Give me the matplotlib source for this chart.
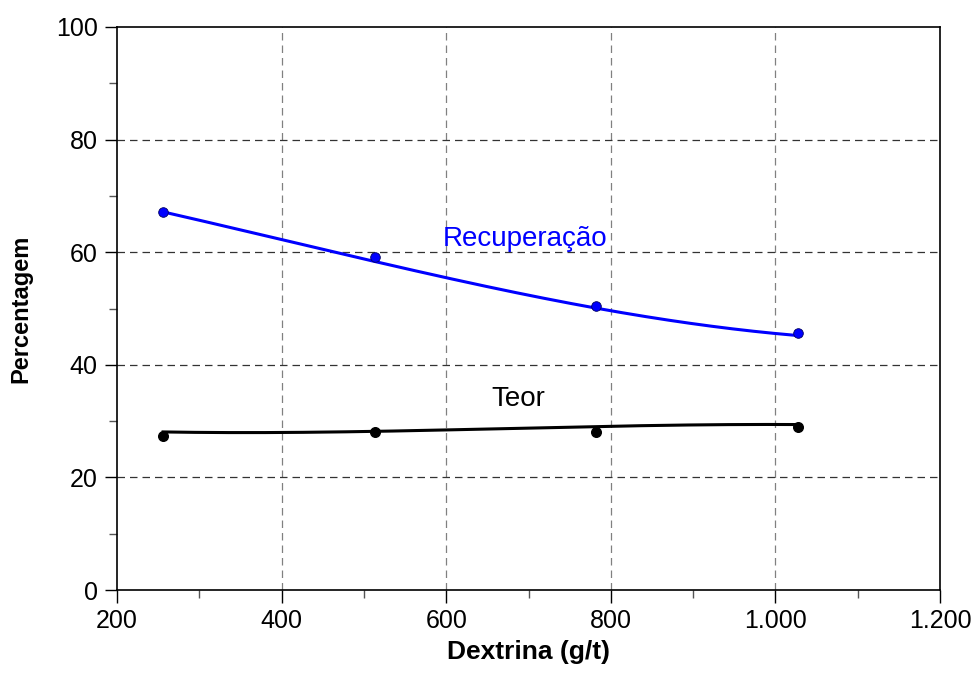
import numpy as np
import matplotlib.pyplot as plt
from matplotlib.ticker import MultipleLocator, FuncFormatter

plt.rcParams['font.family'] = ['Liberation Sans', 'DejaVu Sans']

# === Data ===
dextrina = [256, 513, 782, 1027]
recuperacao = [67.2, 59.2, 50.4, 45.6]
teor = [27.35, 28.1, 28.1, 28.9]

# smoothed trend curves as drawn in the original
curve_x = [256, 397, 513, 602, 783, 895, 1028]
rec_curve = [67.2, 62.2, 58.5, 55.4, 50.0, 47.4, 45.2]
teor_curve = [28.1, 27.9, 28.2, 28.5, 29.0, 29.3, 29.4]


def thousands(v, pos):
    return f"{int(v):,}".replace(",", ".")


fig = plt.figure(figsize=(9.8, 6.88), dpi=100)
ax = fig.add_axes([117 / 980, 1 - 590 / 688, (940 - 117) / 980, (590 - 27) / 688])

# smooth trend lines through the read curve values
xs = np.linspace(curve_x[0], curve_x[-1], 300)
rec_s = np.polyval(np.polyfit(curve_x, rec_curve, 3), xs)
teor_s = np.polyval(np.polyfit(curve_x, teor_curve, 3), xs)

ax.plot(xs, rec_s, color='#0000ff', lw=2.2, zorder=3)
ax.plot(xs, teor_s, color='black', lw=2.2, zorder=3)
ax.scatter(dextrina, recuperacao, s=48, color='#0000ff', edgecolor='#000060', lw=0.6, zorder=4)
ax.scatter(dextrina, teor, s=48, color='black', zorder=4)

ax.text(696, 62.3, "Recuperação", color='#0000ff', fontsize=20, ha='center', va='center')
ax.text(688, 34.0, "Teor", color='black', fontsize=20, ha='center', va='center')

ax.set_xlim(200, 1200)
ax.set_ylim(0, 100)
ax.xaxis.set_major_locator(MultipleLocator(200))
ax.xaxis.set_minor_locator(MultipleLocator(100))
ax.yaxis.set_major_locator(MultipleLocator(20))
ax.yaxis.set_minor_locator(MultipleLocator(10))
ax.xaxis.set_major_formatter(FuncFormatter(thousands))
ax.tick_params(which='major', direction='out', length=9, width=1, labelsize=18, pad=5)
ax.tick_params(which='minor', direction='out', length=6, width=1, color='#555555')

for x in [400, 600, 800, 1000]:
    ax.axvline(x, color='#808080', lw=0.9, ls=(0, (6, 4)), zorder=1)
for y in [20, 40, 60, 80]:
    ax.axhline(y, color='#333333', lw=0.9, ls=(0, (6, 4)), zorder=1)

for s in ax.spines.values():
    s.set_linewidth(1.2)

ax.set_xlabel("Dextrina (g/t)", fontsize=19, fontweight='bold', labelpad=5)
ax.set_ylabel("Percentagem", fontsize=17, fontweight='bold', labelpad=17)

fig.savefig("out.png", dpi=100)
